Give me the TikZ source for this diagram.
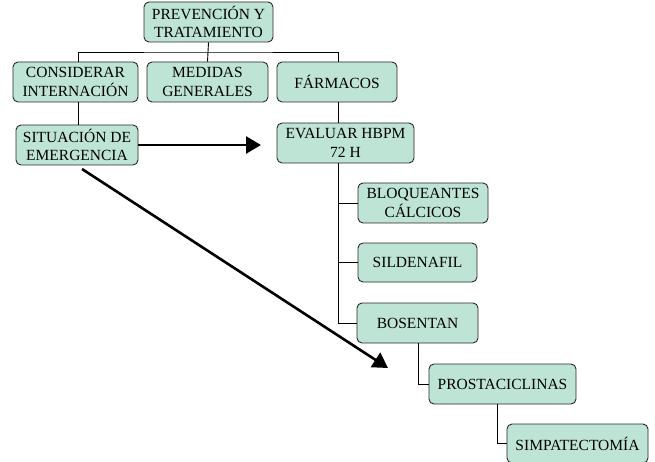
\documentclass[tikz,border=0pt]{standalone}
\usepackage{fontspec}
\setmainfont{Liberation Serif}
\usetikzlibrary{arrows.meta}
\definecolor{boxfill}{RGB}{190,228,214}
\definecolor{boxline}{RGB}{40,40,40}
\begin{document}
\begin{tikzpicture}[x=1pt,y=-1pt,
  box/.style={draw=boxline,line width=0.9pt,fill=boxfill,rounded corners=5pt,
    minimum height=40pt,inner sep=0pt,align=center,
    font=\fontsize{15.5}{18.5}\selectfont},
  conn/.style={draw=black,line width=0.9pt},
  bigarrow/.style={draw=black,line width=2.6pt,-{Triangle[length=15pt,width=17pt]}}]
\useasboundingbox (0,0) rectangle (655,462);
\node[box,minimum width=129pt] (top) at (208.5,22) {PREVENCIÓN Y\\TRATAMIENTO};
\node[box,minimum width=125pt] (cons) at (75.5,82) {CONSIDERAR\\INTERNACIÓN};
\node[box,minimum width=121pt] (med) at (207.5,82) {MEDIDAS\\GENERALES};
\node[box,minimum width=120pt] (farm) at (337,82) {FÁRMACOS};
\node[box,minimum width=122pt] (sit) at (77,145) {SITUACIÓN DE\\EMERGENCIA};
\node[box,minimum width=137pt] (eval) at (345.5,143) {EVALUAR HBPM\\72 H};
\node[box,minimum width=130pt] (bloq) at (423,203) {BLOQUEANTES\\CÁLCICOS};
\node[box,minimum width=119pt,minimum height=39pt] (sild) at (417.5,262.5) {SILDENAFIL};
\node[box,minimum width=121pt] (bos) at (417.5,323) {BOSENTAN};
\node[box,minimum width=147pt] (prost) at (502.5,384) {PROSTACICLINAS};
\node[box,minimum width=141pt,minimum height=39pt] (simp) at (577.5,443.5) {SIMPATECTOMÍA};
% tree connectors
\draw[conn] (top.south) -- (med.north);
\draw[conn] (cons.north -| 78,0) |- (208,52) -| (farm.north -| 338,0);
\draw[conn] (cons.south -| 78,0) -- (sit.north -| 78,0);
\draw[conn] (farm.south -| 338,0) -- (eval.north -| 338,0);
\draw[conn] (eval.south -| 338,0) |- (bos.west);
\draw[conn] (338,203) -- (bloq.west);
\draw[conn] (338,262.5) -- (sild.west);
\draw[conn] (bos.south -| 418,0) |- (prost.west);
\draw[conn] (prost.south -| 497,0) |- (simp.west);
% arrows
\coordinate (harrow) at (261,145);
\coordinate (dstart) at (82,169);
\coordinate (darrow) at (388,368);
\draw[bigarrow] (sit.east) -- (harrow);
\draw[bigarrow] (dstart) -- (darrow);
\end{tikzpicture}
\end{document}
